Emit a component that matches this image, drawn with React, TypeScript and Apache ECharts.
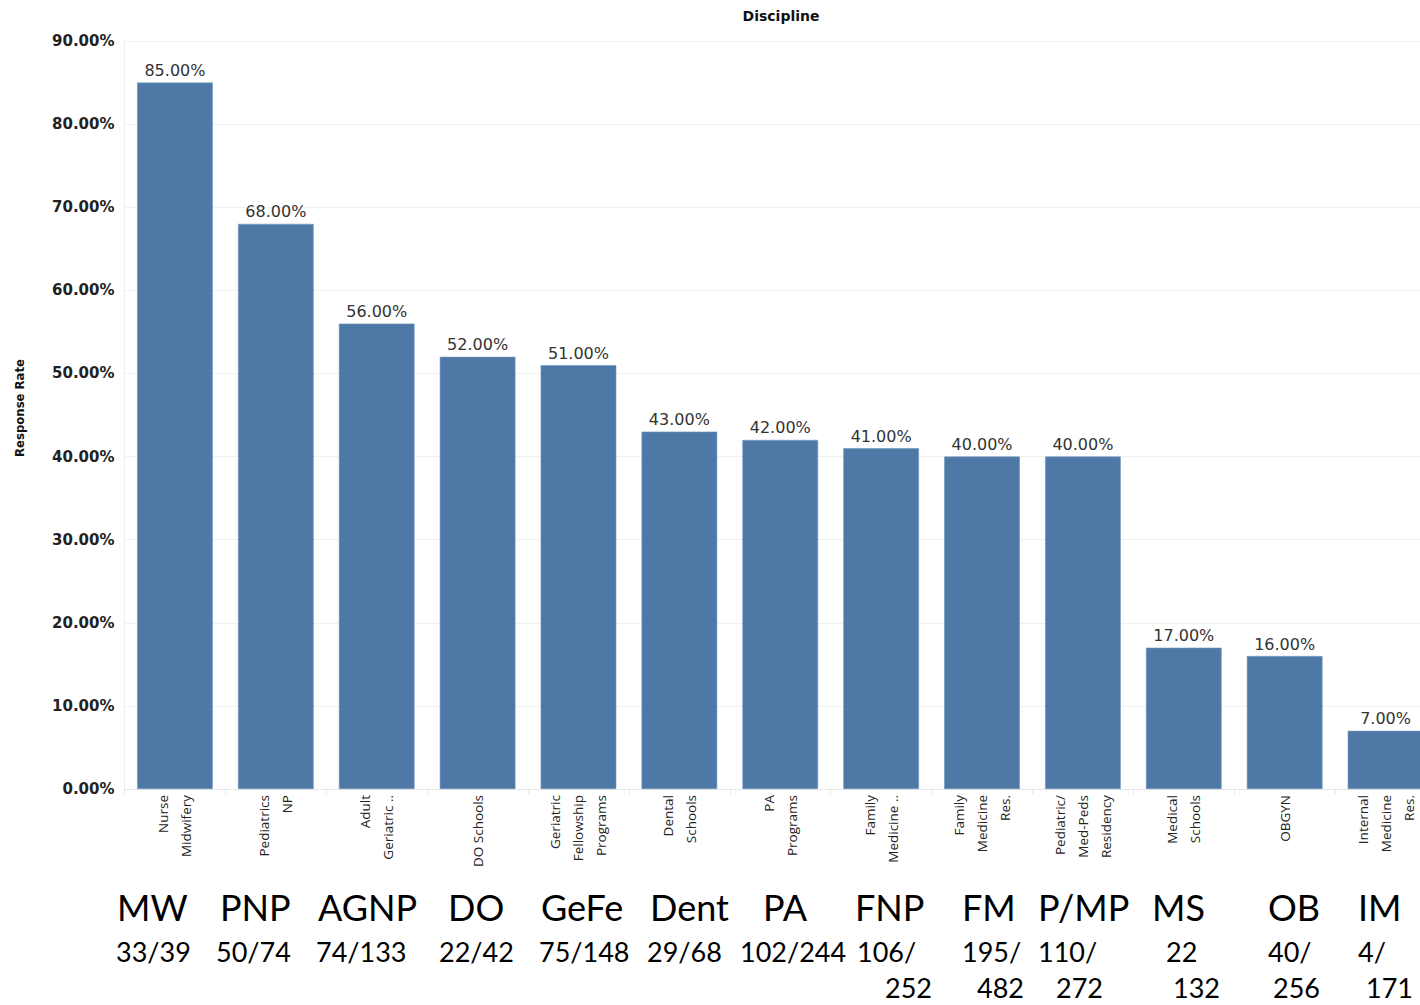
import React, { useEffect, useRef } from "react";
import * as echarts from "echarts";

const categories = [
  "Nurse\nMidwifery",
  "Pediatrics\nNP",
  "Adult\nGeriatric ..",
  "DO Schools",
  "Geriatric\nFellowship\nPrograms",
  "Dental\nSchools",
  "PA\nPrograms",
  "Family\nMedicine ..",
  "Family\nMedicine\nRes.",
  "Pediatric/\nMed-Peds\nResidency",
  "Medical\nSchools",
  "OBGYN",
  "Internal\nMedicine\nRes.",
];
const responseRates = [85, 68, 56, 52, 51, 43, 42, 41, 40, 40, 17, 16, 7];
const abbreviations = ["MW", "PNP", "AGNP", "DO", "GeFe", "Dent", "PA", "FNP", "FM", "P/MP", "MS", "OB", "IM"];
const countsLine1 = ["33/39", "50/74", "74/133", "22/42", "75/148", "29/68", "102/244", "106/", "195/", "110/", "22", "40/", "4/"];
const countsLine2 = ["", "", "", "", "", "", "", "252", "482", "272", "132", "256", "171"];
const yTicks = { min: 0, max: 90, interval: 10 };

// layout (text box positions of the slide annotation)
const abbrX = [117, 220, 318, 448, 541, 650, 763, 855, 962, 1038, 1152, 1268, 1358];
const line1X = [116, 216, 316, 439, 539, 647, 740, 857, 962, 1038, 1166, 1268, 1358];
const line2X = [0, 0, 0, 0, 0, 0, 0, 885, 977, 1056, 1173, 1273, 1366];

export default function App() {
  const ref = useRef<HTMLDivElement>(null);
  useEffect(() => {
    if (!ref.current) return;
    const chart = echarts.init(ref.current, null, { renderer: "svg" });
    const graphics: any[] = [
      {
        type: "text", x: 19, y: 408, rotation: Math.PI / 2,
        style: {
          text: "Response Rate",
          font: "bold 13px 'DejaVu Sans Condensed'",
          fill: "#111", align: "center", verticalAlign: "middle",
        },
      },
    ];
    abbreviations.forEach((t, i) => {
      graphics.push({
        type: "text", x: abbrX[i], y: 907,
        style: { text: t, font: "36px Lato", fill: "#000", align: "left", verticalAlign: "middle" },
      });
      graphics.push({
        type: "text", x: line1X[i], y: 951,
        style: { text: countsLine1[i], font: "27px Lato", fill: "#000", align: "left", verticalAlign: "middle" },
      });
      if (countsLine2[i]) {
        graphics.push({
          type: "text", x: line2X[i], y: 987,
          style: { text: countsLine2[i], font: "27px Lato", fill: "#000", align: "left", verticalAlign: "middle" },
        });
      }
    });
    chart.setOption({
      animation: false,
      title: {
        text: "Discipline",
        left: 776,
        textAlign: "center",
        top: 4,
        textStyle: { fontFamily: "DejaVu Sans", fontSize: 14, fontWeight: "bold", color: "#111" },
      },
      grid: { left: 124.5, top: 41, right: 4, bottom: 216, containLabel: false },
      xAxis: {
        type: "category",
        data: categories,
        axisLine: { show: true, lineStyle: { color: "#e6e6e6" } },
        axisTick: { show: true, length: 5, lineStyle: { color: "#e6e6e6" } },
        axisLabel: {
          rotate: 90,
          interval: 0,
          margin: 6,
          fontFamily: "Open Sans",
          fontSize: 13.5,
          lineHeight: 23,
          color: "#222",
        },
      },
      yAxis: {
        type: "value",
        min: yTicks.min,
        max: yTicks.max,
        interval: yTicks.interval,
        axisLine: { show: true, lineStyle: { color: "#efefef" } },
        axisTick: { show: false },
        splitLine: { lineStyle: { color: "#f0f0f0" } },
        axisLabel: {
          formatter: (v: number) => v.toFixed(2) + "%",
          fontFamily: "DejaVu Sans",
          fontWeight: "bold",
          fontSize: 15,
          color: "#222",
          margin: 10,
        },
      },
      series: [
        {
          type: "bar",
          data: responseRates,
          barCategoryGap: "25%",
          itemStyle: { color: "#4e79a7", borderColor: "#7097c0", borderWidth: 0.6 },
          label: {
            show: true,
            position: "top",
            distance: 4,
            formatter: (p: any) => Number(p.value).toFixed(2) + "%",
            fontFamily: "DejaVu Sans",
            fontSize: 16,
            color: "#333",
          },
        },
      ],
      graphic: graphics,
    });
    return () => chart.dispose();
  }, []);
  return (
    <div style={{ position: "fixed", left: 0, top: 0, width: 1420, height: 1005, overflow: "hidden", background: "#fff" }}>
      <div ref={ref} style={{ width: 1440, height: 1005 }} />
    </div>
  );
}
